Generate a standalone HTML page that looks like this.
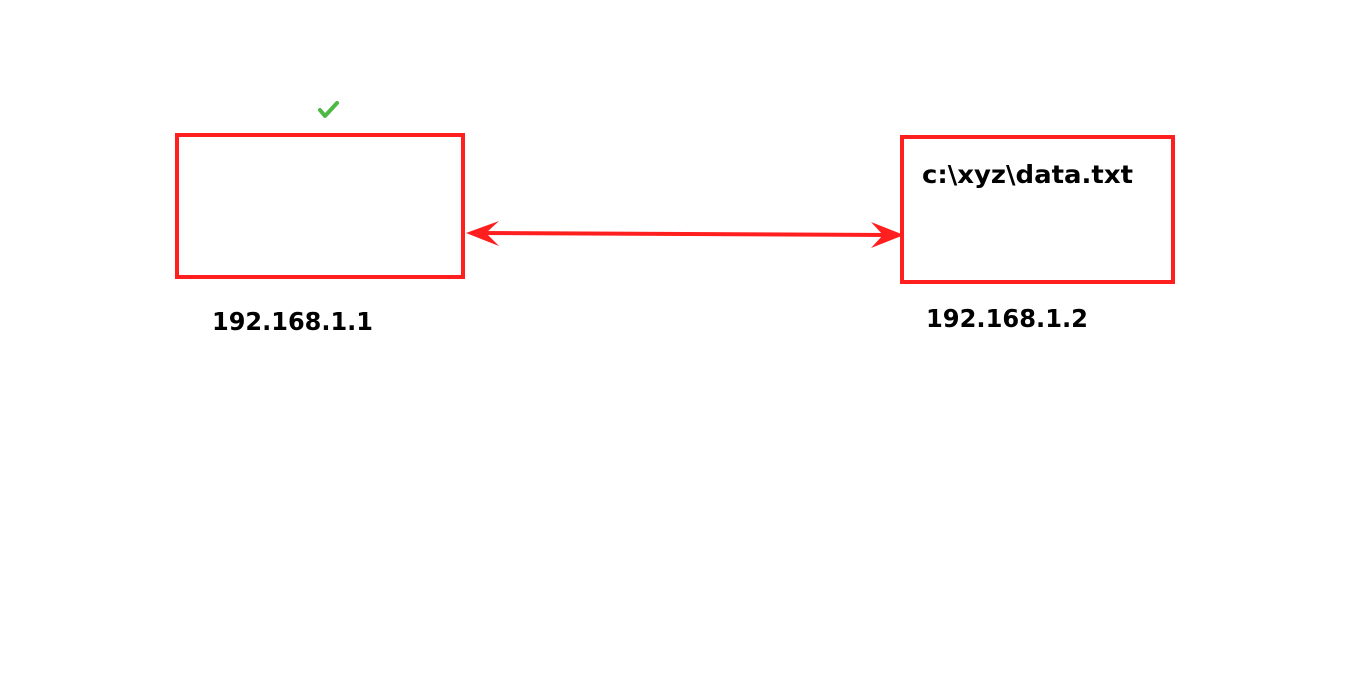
<!DOCTYPE html>
<html><head><meta charset="utf-8"><style>
html,body{margin:0;padding:0;background:#fff;width:1366px;height:697px;overflow:hidden}
text{font-family:"DejaVu Sans","Liberation Sans",sans-serif;font-weight:bold;fill:#000}
</style></head><body>
<svg width="1366" height="697" xmlns="http://www.w3.org/2000/svg">
<rect x="177" y="135" width="286" height="142" fill="none" stroke="#ff1f1f" stroke-width="4"/>
<rect x="902" y="137" width="271" height="145" fill="none" stroke="#ff1f1f" stroke-width="4"/>
<line x1="480" y1="233" x2="890" y2="235" stroke="#ff1f1f" stroke-width="4"/>
<polygon points="466,233 499,221 486,233 499,246" fill="#ff1f1f"/>
<polygon points="904,235 871,222 883,235 871,248" fill="#ff1f1f"/>
<polyline points="320,110 325,116 337,103" fill="none" stroke="#4cb944" stroke-width="4" stroke-linecap="round" stroke-linejoin="round"/>
<text x="922" y="183" font-size="25" textLength="211" lengthAdjust="spacingAndGlyphs">c:\xyz\data.txt</text>
<text x="212" y="330" font-size="25" textLength="161" lengthAdjust="spacingAndGlyphs">192.168.1.1</text>
<text x="926" y="327" font-size="25" textLength="162" lengthAdjust="spacingAndGlyphs">192.168.1.2</text>
</svg>
</body></html>
